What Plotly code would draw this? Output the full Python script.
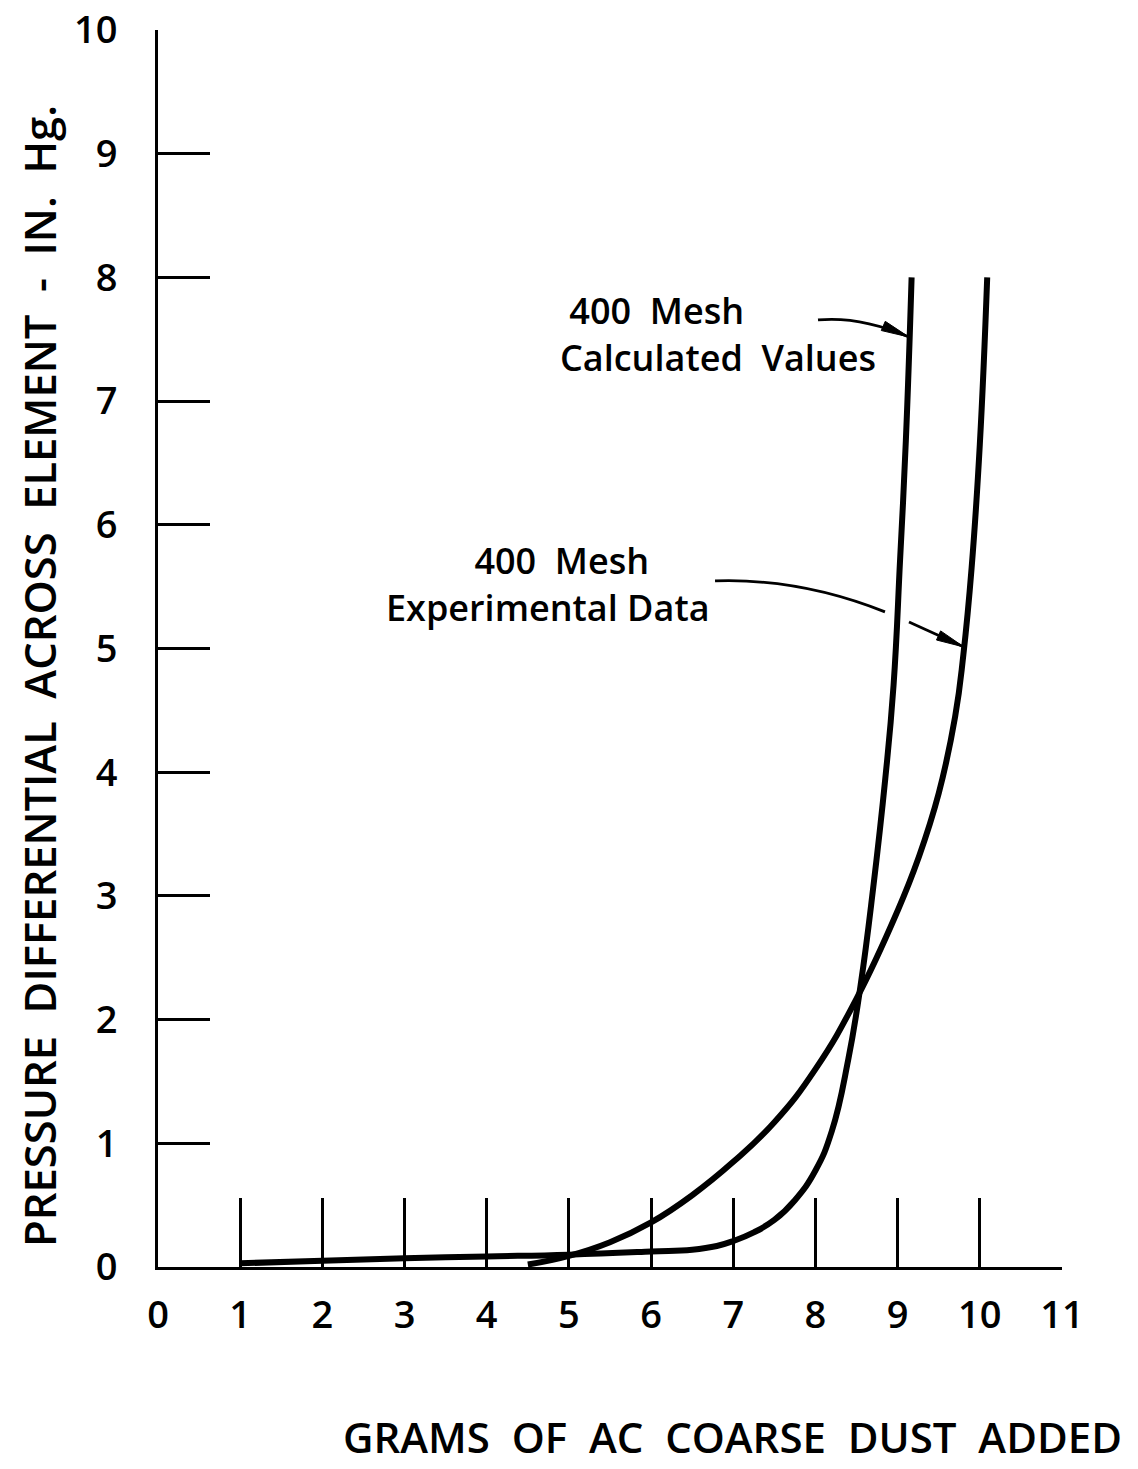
import plotly.graph_objects as go

# ---- data ---------------------------------------------------------------
# 400 mesh element, calculated pressure differential (in. Hg) vs grams of dust
calc_x = [1.0, 2.0, 3.0, 4.0, 5.0, 6.0, 6.5, 6.8, 7.0, 7.25, 7.5, 7.75, 8.0,
          8.2, 8.4, 8.55, 8.7, 8.85, 8.95, 9.03, 9.1, 9.17]
calc_y = [0.03, 0.05, 0.07, 0.085, 0.10, 0.125, 0.14, 0.17, 0.21, 0.28, 0.38,
          0.54, 0.78, 1.10, 1.68, 2.28, 3.05, 3.95, 4.7, 5.72, 6.68, 8.0]

# 400 mesh element, experimental data
exp_x = [4.5, 5.0, 5.5, 6.0, 6.5, 7.0, 7.5, 8.0, 8.5, 9.0, 9.25, 9.5, 9.7,
         9.8, 9.9, 10.0, 10.09]
exp_y = [0.02, 0.09, 0.2, 0.36, 0.58, 0.85, 1.17, 1.6, 2.17, 2.88, 3.3,
         3.83, 4.45, 4.95, 5.65, 6.65, 8.0]

x_ticks = list(range(0, 12))
x_tick_labels = [str(v) for v in x_ticks]
y_ticks = list(range(0, 11))
y_tick_labels = [str(v) for v in y_ticks]

NB = "\u00a0"
y_title = f"PRESSURE{NB}{NB}DIFFERENTIAL{NB}{NB}ACROSS{NB}{NB}ELEMENT{NB}{NB}-{NB}{NB}IN.{NB}{NB}Hg."
x_title = f"GRAMS{NB}{NB}OF{NB}{NB}AC{NB}{NB}COARSE{NB}{NB}DUST{NB}{NB}ADDED"
calc_label = f"{NB}400{NB}{NB}Mesh<br>Calculated{NB}{NB}Values"
exp_label = f"{NB}{NB}{NB}400{NB}{NB}Mesh<br>Experimental Data"

# ---- geometry -----------------------------------------------------------
W, H = 1138, 1469
M_L, M_R, M_T, M_B = 158, 76, 30, 202
X_RANGE = (0, 11)
Y_RANGE = (0, 10)
PX_PER_X = (W - M_L - M_R) / (X_RANGE[1] - X_RANGE[0])
PX_PER_Y = (H - M_T - M_B) / (Y_RANGE[1] - Y_RANGE[0])

FONT = "Open Sans"
WEIGHT = 600
INK = "black"


def arrow_head(tip, tail, length_px=28, half_w_px=5):
    """Filled narrow arrowhead path (data coords) pointing from tail to tip."""
    tx, ty = tip[0] * PX_PER_X, -tip[1] * PX_PER_Y
    bx, by = tail[0] * PX_PER_X, -tail[1] * PX_PER_Y
    dx, dy = tx - bx, ty - by
    n = (dx * dx + dy * dy) ** 0.5
    ux, uy = dx / n, dy / n
    cx, cy = tx - ux * length_px, ty - uy * length_px
    px, py = -uy * half_w_px, ux * half_w_px
    pts = [(tx, ty), (cx + px, cy + py), (cx - px, cy - py)]
    pts = [(x / PX_PER_X, -y / PX_PER_Y) for x, y in pts]
    return "M {} {} L {} {} L {} {} Z".format(*[c for p in pts for c in p])


def font(size):
    return dict(family=FONT, size=size, color=INK, weight=WEIGHT)


fig = go.Figure()

fig.add_trace(go.Scatter(
    x=calc_x, y=calc_y, mode="lines",
    line=dict(color=INK, width=6, shape="spline", smoothing=1.3),
    name="400 Mesh Calculated Values", showlegend=False, hoverinfo="skip"))

fig.add_trace(go.Scatter(
    x=exp_x, y=exp_y, mode="lines",
    line=dict(color=INK, width=6, shape="spline", smoothing=1.3),
    name="400 Mesh Experimental Data", showlegend=False, hoverinfo="skip"))

# ---- leader arrows for the curve labels ---------------------------------
calc_start, calc_ctrl, calc_tip = (8.031, 7.656), (8.545, 7.688), (9.138, 7.518)
exp1_start, exp1_ctrl, exp1_end = (6.778, 5.546), (7.812, 5.570), (8.846, 5.296)
exp2_start, exp2_tip = (9.138, 5.214), (9.808, 5.012)

shapes = [
    dict(type="path", xref="x", yref="y",
         path=f"M {calc_start[0]} {calc_start[1]} Q {calc_ctrl[0]} {calc_ctrl[1]} {calc_tip[0]} {calc_tip[1]}",
         line=dict(color=INK, width=2.8)),
    dict(type="path", xref="x", yref="y",
         path=arrow_head(calc_tip, calc_ctrl), fillcolor=INK,
         line=dict(color=INK, width=1)),
    dict(type="path", xref="x", yref="y",
         path=f"M {exp1_start[0]} {exp1_start[1]} Q {exp1_ctrl[0]} {exp1_ctrl[1]} {exp1_end[0]} {exp1_end[1]}",
         line=dict(color=INK, width=2.8)),
    dict(type="line", xref="x", yref="y",
         x0=exp2_start[0], y0=exp2_start[1], x1=exp2_tip[0], y1=exp2_tip[1],
         line=dict(color=INK, width=2.8)),
    dict(type="path", xref="x", yref="y",
         path=arrow_head(exp2_tip, exp2_start), fillcolor=INK,
         line=dict(color=INK, width=1)),
]

label_font = font(36)
annotations = [
    dict(x=4.867, y=7.546, xref="x", yref="y", text=calc_label, align="left",
         showarrow=False, font=label_font, xanchor="left", yanchor="middle"),
    dict(x=4.746, y=5.521, xref="x", yref="y", text=exp_label, align="center",
         showarrow=False, font=label_font, xanchor="center", yanchor="middle"),
    dict(x=-0.1305, y=0.4778, xref="paper", yref="paper", text=y_title,
         textangle=-90, showarrow=False, xanchor="center", yanchor="middle",
         font=font(43.5)),
    dict(x=0.636, y=-0.1374, xref="paper", yref="paper", text=x_title,
         showarrow=False, xanchor="center", yanchor="middle",
         font=font(42)),
]

fig.update_layout(
    width=W, height=H,
    margin=dict(l=M_L, r=M_R, t=M_T, b=M_B, pad=0),
    paper_bgcolor="white", plot_bgcolor="white",
    showlegend=False,
    shapes=shapes,
    annotations=annotations,
    xaxis=dict(
        range=list(X_RANGE), tickmode="array", tickvals=x_ticks, ticktext=x_tick_labels,
        ticks="inside", ticklen=69, tickwidth=3, tickcolor=INK,
        showline=True, linewidth=3, linecolor=INK, mirror=False,
        showgrid=False, zeroline=False, ticklabelstandoff=12, automargin=False,
        tickfont=font(38),
    ),
    yaxis=dict(
        range=list(Y_RANGE), tickmode="array", tickvals=y_ticks, ticktext=y_tick_labels,
        ticks="inside", ticklen=52, tickwidth=3, tickcolor=INK,
        showline=True, linewidth=3, linecolor=INK, mirror=False,
        showgrid=False, zeroline=False, ticklabelstandoff=30, automargin=False,
        tickfont=font(38),
    ),
)

fig.write_html("out.html")
